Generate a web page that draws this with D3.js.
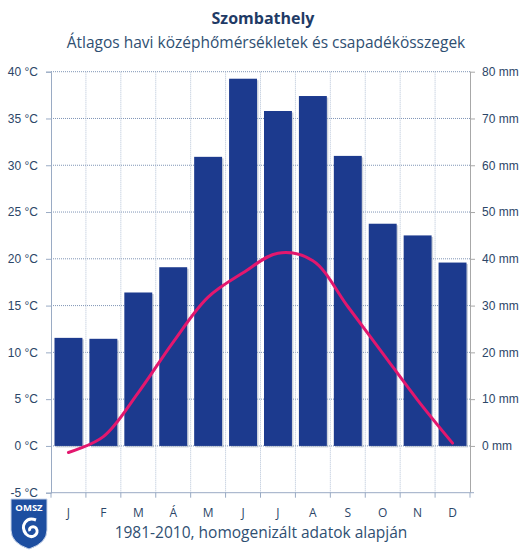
<!DOCTYPE html>
<html>
<head>
<meta charset="utf-8">
<script src="https://cdn.jsdelivr.net/npm/d3@7"></script>
<style>
  body { margin: 0; background: #fff; }
  svg { display: block; font-family: 'Open Sans', 'Liberation Sans', sans-serif; }
</style>
</head>
<body>
<div id="chart"></div>
<script>
var months = ['J', 'F', 'M', 'Á', 'M', 'J', 'J', 'A', 'S', 'O', 'N', 'D'];
var precip = [23.1, 22.9, 32.8, 38.2, 61.8, 78.5, 71.6, 74.8, 62, 47.5, 45, 39.2];
var temp = [-0.7, 1.0, 5.7, 11.1, 15.9, 18.5, 20.6, 19.8, 14.9, 9.9, 4.9, 0.3];
var tempTicks = [-5, 0, 5, 10, 15, 20, 25, 30, 35, 40];
var precipTicks = [0, 10, 20, 30, 40, 50, 60, 70, 80];

var width = 527;
var height = 550;
// note: "top" clashes with window.top, so plot edges get their own names
var plotLeft = 51, plotRight = 470, plotTop = 71.7, plotBottom = 492.7;

var svg = d3.select('#chart')
            .append('svg')
            .attr('width', width)
            .attr('height', height);

var x = d3.scaleBand()
          .domain(d3.range(12))
          .range([plotLeft, plotRight])
          .paddingInner(0.2)
          .paddingOuter(0.1);

// band boundaries for grid + ticks
var step = (plotRight - plotLeft) / 12;
var bounds = d3.range(13).map(function (i) { return plotLeft + i * step; });

var yT = d3.scaleLinear().domain([-5, 40]).range([plotBottom, plotTop]);
var yP = d3.scaleLinear().domain([-10, 80]).range([plotBottom, plotTop]);

// gridlines
svg.append('g')
   .selectAll('line')
   .data(tempTicks.slice(1))
   .enter()
   .append('line')
     .attr('x1', plotLeft).attr('x2', plotRight)
     .attr('y1', function (d) { return yT(d); })
     .attr('y2', function (d) { return yT(d); })
     .attr('stroke', '#7f95b6')
     .attr('stroke-width', 1)
     .attr('stroke-dasharray', '1,1');

svg.append('g')
   .selectAll('line')
   .data(bounds.slice(1, 12))
   .enter()
   .append('line')
     .attr('x1', function (d) { return d; })
     .attr('x2', function (d) { return d; })
     .attr('y1', plotTop).attr('y2', plotBottom)
     .attr('stroke', '#b4c2d6')
     .attr('stroke-width', 1)
     .attr('stroke-dasharray', '1,1');

// shadows under bars
svg.append('g')
   .selectAll('rect')
   .data(precip)
   .enter()
   .append('rect')
     .attr('x', function (d, i) { return x(i) + 1.5; })
     .attr('y', function (d) { return yP(d) + 1.5; })
     .attr('width', x.bandwidth())
     .attr('height', function (d) { return yP(0) - yP(d); })
     .attr('fill', '#9aa6b8')
     .attr('opacity', 0.5);

// bars
svg.append('g')
   .selectAll('rect')
   .data(precip)
   .enter()
   .append('rect')
     .attr('x', function (d, i) { return x(i); })
     .attr('y', function (d) { return yP(d); })
     .attr('width', x.bandwidth())
     .attr('height', function (d) { return yP(0) - yP(d); })
     .attr('fill', '#1c3a8e');

// temperature line
var line = d3.line()
             .x(function (d, i) { return x(i) + x.bandwidth() / 2; })
             .y(function (d) { return yT(d); })
             .curve(d3.curveCatmullRom.alpha(0.5));

svg.append('path')
   .datum(temp)
   .attr('d', line)
   .attr('fill', 'none')
   .attr('stroke', '#e3176e')
   .attr('stroke-width', 3)
   .attr('stroke-linecap', 'round');

// left axis
var leftAxis = d3.axisLeft(yT).tickValues(tempTicks).tickSize(5)
                 .tickFormat(function (d) { return d + ' °C'; });
var gl = svg.append('g')
            .attr('transform', 'translate(' + plotLeft + ',0)')
            .call(leftAxis);
gl.select('.domain').attr('stroke', '#9aabc4');
gl.selectAll('.tick line').attr('stroke', '#9aabc4');
gl.selectAll('text').attr('fill', '#2c4668').attr('font-size', 12).attr('x', -13);

// right axis
var rightAxis = d3.axisRight(yP).tickValues(precipTicks).tickSize(5)
                  .tickFormat(function (d) { return d + ' mm'; });
var gr = svg.append('g')
            .attr('transform', 'translate(' + plotRight + ',0)')
            .call(rightAxis);
gr.select('.domain').attr('stroke', '#a8a8a8').attr('d', 'M0.5,' + plotTop + 'V' + plotBottom);
gr.selectAll('.tick line').attr('stroke', '#a8a8a8');
gr.selectAll('text').attr('fill', '#2c4668').attr('font-size', 12).attr('x', 12);

// bottom axis
svg.append('line')
   .attr('x1', plotLeft).attr('x2', plotRight + 4)
   .attr('y1', plotBottom).attr('y2', plotBottom)
   .attr('stroke', '#9aabc4');
svg.append('g')
   .selectAll('line')
   .data(bounds)
   .enter()
   .append('line')
     .attr('x1', function (d) { return d; })
     .attr('x2', function (d) { return d; })
     .attr('y1', plotBottom).attr('y2', plotBottom + 5)
     .attr('stroke', '#9aabc4');

svg.append('g')
   .selectAll('text')
   .data(months)
   .enter()
   .append('text')
     .attr('x', function (d, i) { return x(i) + x.bandwidth() / 2; })
     .attr('y', plotBottom + 24)
     .attr('text-anchor', 'middle')
     .attr('font-size', 12)
     .attr('fill', '#2c4668')
     .text(function (d) { return d; });

// titles
svg.append('text')
   .attr('x', 263).attr('y', 24)
   .attr('text-anchor', 'middle')
   .attr('font-size', 16)
   .attr('font-weight', 'bold')
   .attr('fill', '#1f3b66')
   .text('Szombathely');

svg.append('text')
   .attr('x', 266).attr('y', 48)
   .attr('text-anchor', 'middle')
   .attr('font-size', 15.5)
   .attr('fill', '#2f4f72')
   .text('Átlagos havi középhőmérsékletek  és csapadékösszegek');

svg.append('text')
   .attr('x', 261).attr('y', 538)
   .attr('text-anchor', 'middle')
   .attr('font-size', 15.5)
   .attr('fill', '#2f4f72')
   .text('1981-2010, homogenizált adatok alapján');

// OMSZ logo
var logo = svg.append('g').attr('transform', 'translate(11,499)');
logo.append('path')
    .attr('d', 'M0,0 H36 V31 Q36,44 18,50 Q0,44 0,31 Z')
    .attr('fill', '#1d4ea0')
    .attr('stroke', '#c9d5ea')
    .attr('stroke-width', 1);
logo.append('text')
    .attr('x', 18).attr('y', 12)
    .attr('text-anchor', 'middle')
    .attr('font-size', 9.5)
    .attr('font-weight', 'bold')
    .attr('fill', '#fff')
    .text('OMSZ');
logo.append('path')
    .attr('d', 'M25,21 C15,17 9,27 15,35 C21,41 29,35 25,29 C22,26 17,29 19,32')
    .attr('fill', 'none')
    .attr('stroke', '#fff')
    .attr('stroke-width', 3);
</script>
</body>
</html>
